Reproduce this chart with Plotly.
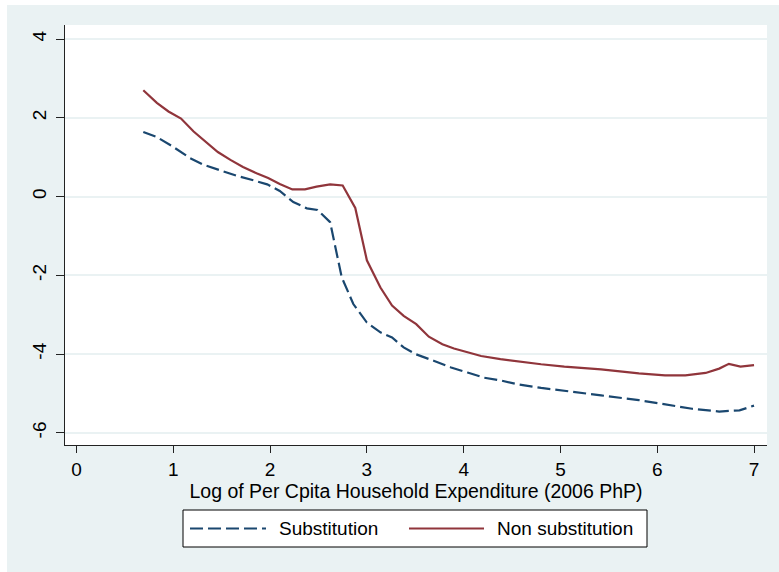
import plotly.graph_objects as go

# Data
x_non = [0.69, 0.83, 0.95, 1.08, 1.21, 1.34, 1.46, 1.59, 1.72, 1.86, 1.98, 2.10, 2.23, 2.36, 2.48,
         2.62, 2.75, 2.88, 3.00, 3.14, 3.26, 3.38, 3.51, 3.64, 3.78, 3.90, 4.04, 4.18, 4.38, 4.56,
         4.80, 5.04, 5.42, 5.81, 6.08, 6.29, 6.50, 6.64, 6.74, 6.86, 7.00]
y_non = [2.70, 2.38, 2.16, 1.98, 1.65, 1.38, 1.13, 0.93, 0.75, 0.59, 0.47, 0.32, 0.18, 0.18, 0.25,
         0.31, 0.28, -0.29, -1.62, -2.31, -2.77, -3.03, -3.24, -3.56, -3.75, -3.86, -3.96, -4.05, -4.13, -4.19,
         -4.26, -4.32, -4.39, -4.49, -4.54, -4.54, -4.48, -4.37, -4.25, -4.32, -4.28]

x_sub = [0.69, 0.83, 1.00, 1.17, 1.31, 1.48, 1.65, 1.83, 1.97, 2.10, 2.24, 2.38, 2.49, 2.62, 2.74,
         2.86, 3.00, 3.14, 3.26, 3.38, 3.50, 3.69, 3.87, 4.04, 4.21, 4.38, 4.56, 4.80, 5.04, 5.42,
         5.81, 6.08, 6.36, 6.64, 6.85, 7.00]
y_sub = [1.64, 1.51, 1.26, 0.98, 0.81, 0.66, 0.53, 0.41, 0.31, 0.14, -0.14, -0.30, -0.34, -0.65, -2.05,
         -2.73, -3.20, -3.45, -3.58, -3.83, -4.00, -4.17, -4.34, -4.47, -4.60, -4.67, -4.77, -4.86, -4.94, -5.05,
         -5.17, -5.28, -5.39, -5.46, -5.43, -5.31]

x_ticks = [0, 1, 2, 3, 4, 5, 6, 7]
y_ticks = [-6, -4, -2, 0, 2, 4]

BLUE = "#1A476F"
RED = "#90353B"
BG = "#EAF2F3"
FONT = "Liberation Sans, Arial, sans-serif"

fig = go.Figure()
fig.add_trace(go.Scatter(x=x_sub, y=y_sub, mode="lines", name="Substitution",
                         line=dict(color=BLUE, width=2.2, dash="13px,5px"), showlegend=False))
fig.add_trace(go.Scatter(x=x_non, y=y_non, mode="lines", name="Non substitution",
                         line=dict(color=RED, width=2.2), showlegend=False))

W, H = 779, 572
L, R, T, B = 65, 12, 25, 127
pw, ph = W - L - R, H - T - B


def px(xp):
    return (xp - L) / pw


def py(yp):
    return (H - B - yp) / ph


shapes = [
    # white strips at left and top of the figure
    dict(type="rect", xref="paper", yref="paper", x0=px(0), x1=px(7), y0=py(0), y1=py(H),
         fillcolor="white", line=dict(width=0), layer="below"),
    dict(type="rect", xref="paper", yref="paper", x0=px(0), x1=px(W), y0=py(0), y1=py(5),
         fillcolor="white", line=dict(width=0), layer="below"),
    # legend box
    dict(type="rect", xref="paper", yref="paper", x0=px(183), x1=px(647), y0=py(547), y1=py(510),
         fillcolor="white", line=dict(color="black", width=1)),
    dict(type="line", xref="paper", yref="paper", x0=px(190), x1=px(266), y0=py(528.5), y1=py(528.5),
         line=dict(color=BLUE, width=2.2, dash="13px,5px")),
    dict(type="line", xref="paper", yref="paper", x0=px(409), x1=px(484), y0=py(528.5), y1=py(528.5),
         line=dict(color=RED, width=2.2)),
]

annotations = [
    dict(xref="paper", yref="paper", x=px(277), y=py(528.5), xanchor="left", yanchor="middle",
         text="Substitution", showarrow=False, font=dict(family=FONT, size=19, color="black")),
    dict(xref="paper", yref="paper", x=px(495), y=py(528.5), xanchor="left", yanchor="middle",
         text="Non substitution", showarrow=False, font=dict(family=FONT, size=19, color="black")),
]

fig.update_layout(
    width=W, height=H,
    margin=dict(l=L, r=R, t=T, b=B),
    paper_bgcolor=BG,
    plot_bgcolor="white",
    font=dict(family=FONT, size=19, color="black"),
    shapes=shapes,
    annotations=annotations,
    showlegend=False,
    xaxis=dict(
        range=[-0.119, 7.134], tickvals=x_ticks, ticktext=[str(v) for v in x_ticks],
        showgrid=False, zeroline=False,
        showline=True, linecolor="#222222", linewidth=1,
        ticks="outside", ticklen=7, tickcolor="#222222", tickwidth=1,
        tickfont=dict(family=FONT, size=19, color="black"),
        title=dict(text="Log of Per Cpita Household Expenditure (2006 PhP)",
                   font=dict(family=FONT, size=19.5, color="black"), standoff=3),
    ),
    yaxis=dict(
        range=[-6.31, 4.356], tickvals=y_ticks, ticktext=[str(v) for v in y_ticks],
        showgrid=True, gridcolor=BG, gridwidth=1.5, zeroline=False,
        showline=True, linecolor="#222222", linewidth=1,
        ticks="outside", ticklen=8, tickcolor="#222222", tickwidth=1,
        tickangle=-90, ticklabelstandoff=2,
        tickfont=dict(family=FONT, size=19, color="black"),
    ),
)

fig.write_html("out.html", config={"displayModeBar": False},
               post_script="document.body.style.margin='0';document.body.style.padding='0';")
